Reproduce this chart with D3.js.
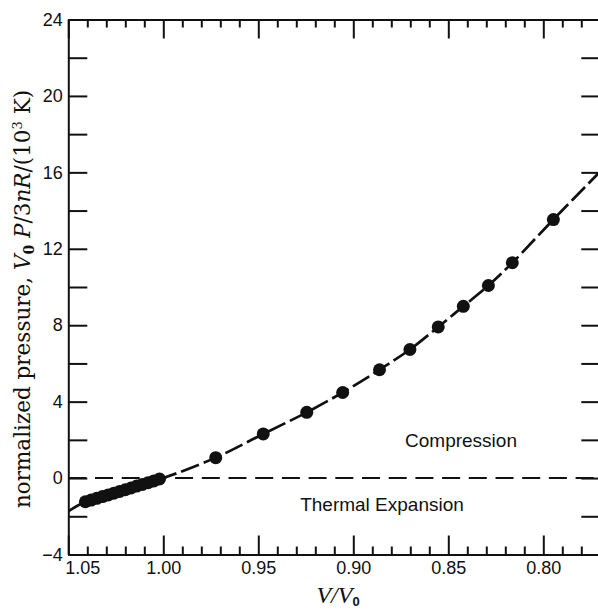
<!DOCTYPE html>
<meta charset="utf-8">
<script src='https://d3js.org/d3.v7.min.js'></script>
<style>
   body { margin:0; background:white; }
   .tick text { font-family:"Liberation Sans", Arial, sans-serif; font-size:18px; fill:#111; }
   .domain, .tick line { stroke:#111; stroke-width:2; }
</style>
<html>
   <body onload='main()'>
      <svg class="chart" width=598 height=610></svg>
   </body>
   <script>
      // measured points (V/V0 , normalized pressure in 10^3 K)
      var vRatio = [1.041, 1.038, 1.035, 1.032, 1.029, 1.026, 1.023, 1.020, 1.017, 1.014, 1.011, 1.008, 1.005, 1.002,
                    0.9724, 0.9474, 0.9245, 0.9056, 0.8862, 0.8702, 0.8553, 0.8421, 0.8289, 0.8163, 0.7947]
      var pressure = [-1.24, -1.15, -1.06, -0.97, -0.88, -0.79, -0.70, -0.61, -0.52, -0.42, -0.33, -0.24, -0.15, -0.05,
                      1.07, 2.31, 3.44, 4.48, 5.67, 6.73, 7.91, 8.99, 10.08, 11.27, 13.53]
      // dashed fit curve
      var fitV = [1.05, 1.041, 1.02, 1.00, 0.9724, 0.9474, 0.9245, 0.9056, 0.8862, 0.8702, 0.8553, 0.8421, 0.8289, 0.8163, 0.7947, 0.77]
      var fitP = [-1.74, -1.24, -0.61, 0.0, 1.07, 2.31, 3.44, 4.48, 5.67, 6.73, 7.91, 8.99, 10.08, 11.27, 13.53, 16.05]
      var xLabelTicks = [1.05, 1.00, 0.95, 0.90, 0.85, 0.80]
      var xMinorTicks = [1.04, 1.03, 1.02, 1.01, 0.99, 0.98, 0.97, 0.96, 0.94, 0.93, 0.92, 0.91,
                         0.89, 0.88, 0.87, 0.86, 0.84, 0.83, 0.82, 0.81, 0.79, 0.78]
      var yTicks = [-4, -2, 0, 2, 4, 6, 8, 10, 12, 14, 16, 18, 20, 22, 24]
      var yLabelTicks = [-4, 0, 4, 8, 12, 16, 20, 24]

      var plotL = 68.3, plotR = 600.3, plotT = 19.5, plotB = 554.5;
      var x = d3.scaleLinear().domain([1.05, 0.77]).range([plotL, plotR])
      var y = d3.scaleLinear().domain([-4, 24]).range([plotB, plotT])

      function main() {
        var svg = d3.select(".chart")
        svg.append("rect").attr("width",598).attr("height",610).style("fill","white")

        svg.append("clipPath").attr("id","plot")
          .append("rect").attr("x",plotL).attr("y",plotT).attr("width",plotR-plotL).attr("height",plotB-plotT)

        // zero line
        svg.append("line")
          .attr("x1",plotL).attr("x2",plotR)
          .attr("y1",y(0)).attr("y2",y(0))
          .style("stroke","#111").style("stroke-width",2)
          .style("stroke-dasharray","18,8.7")

        // fit curve
        var line = d3.line()
          .x(function(d) { return x(d[0]); })
          .y(function(d) { return y(d[1]); })
          .curve(d3.curveCatmullRom)
        svg.append("path")
          .datum(fitV.map(function(v,i) { return [v, fitP[i]]; }))
          .attr("d", line)
          .attr("clip-path","url(#plot)")
          .style("fill","none").style("stroke","#111").style("stroke-width",2.7)
          .style("stroke-dasharray","19,5")

        // points
        svg.selectAll("circle")
          .data(vRatio)
          .enter()
          .append("circle")
          .attr("cx",function(d) { return x(d); })
          .attr("cy",function(d,i) { return y(pressure[i]); })
          .attr("r",6.5)
          .style("fill","#111")

        // axes
        svg.append("g").attr("transform","translate(0,"+plotB+")")
          .call(d3.axisBottom(x).tickValues(xMinorTicks).tickSize(-8).tickSizeOuter(0).tickFormat(""))
        svg.append("g").attr("class","xlab").attr("transform","translate(0,"+plotB+")")
          .call(d3.axisBottom(x).tickValues(xLabelTicks).tickSize(-19).tickSizeOuter(0).tickPadding(7)
            .tickFormat(d3.format(".2f")))
        svg.selectAll(".xlab .tick text").attr("dx",function(d) { return d == 1.05 ? 14 : 0; })

        svg.append("g").attr("transform","translate(0,"+plotT+")")
          .call(d3.axisTop(x).tickValues(xMinorTicks).tickSize(-8).tickSizeOuter(0).tickFormat(""))
        svg.append("g").attr("transform","translate(0,"+plotT+")")
          .call(d3.axisTop(x).tickValues(xLabelTicks).tickSize(-19).tickSizeOuter(0).tickFormat(""))

        svg.append("g").attr("transform","translate("+plotL+",0)")
          .call(d3.axisLeft(y).tickValues(yTicks).tickSize(-19).tickSizeOuter(0).tickPadding(5.5)
            .tickFormat(function(d) { return yLabelTicks.indexOf(d) >= 0 ? d3.format("d")(d) : ""; }))
        svg.append("g").attr("transform","translate("+plotR+",0)")
          .call(d3.axisRight(y).tickValues(yTicks).tickSize(-19).tickSizeOuter(0).tickFormat(""))

        // region labels
        svg.append("text").attr("x",461).attr("y",446.5)
          .attr("text-anchor","middle")
          .style("font-family","Liberation Sans, Arial, sans-serif").style("font-size","19px").style("fill","#111")
          .text("Compression")
        svg.append("text").attr("x",382).attr("y",511)
          .attr("text-anchor","middle")
          .style("font-family","Liberation Sans, Arial, sans-serif").style("font-size","19px").style("fill","#111")
          .text("Thermal Expansion")

        // x title
        var xt = svg.append("text").attr("x",338).attr("y",603)
          .attr("text-anchor","middle")
          .style("font-family","Liberation Serif, Times New Roman, serif").style("font-size","24px").style("fill","#111")
        xt.append("tspan").style("font-style","italic").text("V/V")
        xt.append("tspan").attr("dy",3).style("font-size","13px").style("font-weight","bold")
          .style("font-family","Liberation Sans, Arial, sans-serif").text("0")

        // y title
        var yt = svg.append("text")
          .attr("transform","translate(30,299) rotate(-90)")
          .attr("text-anchor","middle")
          .style("font-family","DejaVu Serif, serif").style("font-size","21.5px").style("fill","#111")
        yt.append("tspan").text("normalized pressure, ")
        yt.append("tspan").style("font-style","italic").text("V")
        yt.append("tspan").attr("dy",4).style("font-size","14px").style("font-weight","bold").text("0")
        yt.append("tspan").attr("dy",-4).style("font-style","italic").text(" P")
        yt.append("tspan").text("/3")
        yt.append("tspan").style("font-style","italic").text("nR")
        yt.append("tspan").text("/(10")
        yt.append("tspan").attr("dy",-8).style("font-size","13px").text("3")
        yt.append("tspan").attr("dy",8).text(" K)")
      }
   </script>
</html>
